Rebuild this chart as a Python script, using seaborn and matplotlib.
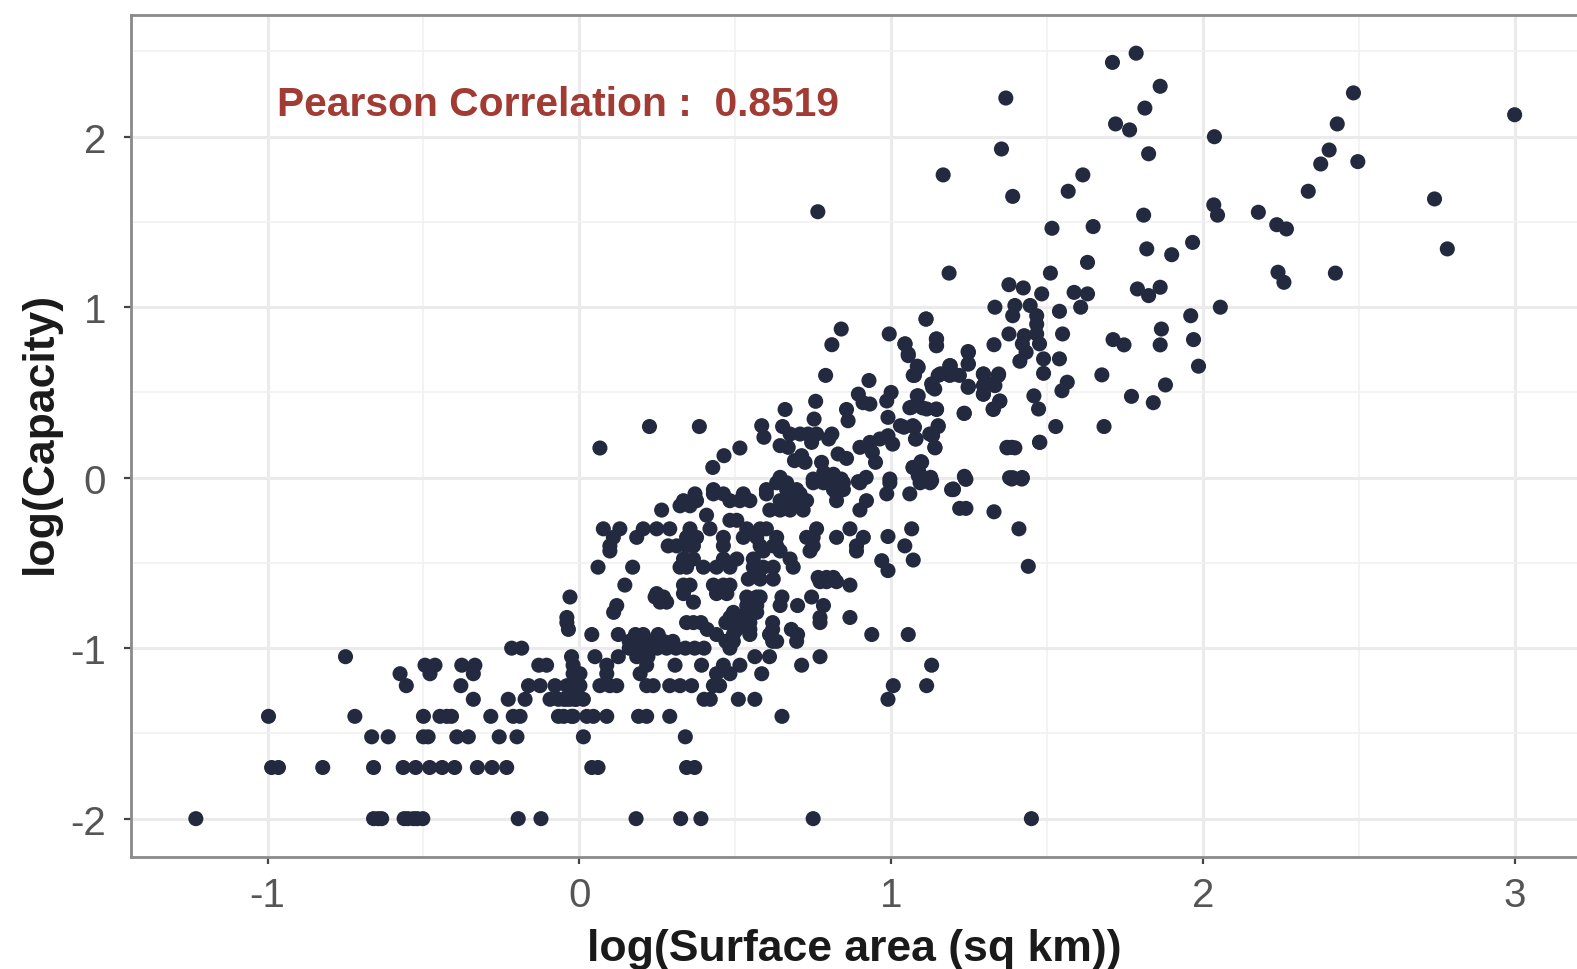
import matplotlib
matplotlib.use("Agg")
import matplotlib.pyplot as plt
import seaborn as sns
import pandas as pd
from matplotlib.ticker import MultipleLocator

# Rows of points sharing one log(Capacity) value: (level, log(Surface area) values)
row_levels = [-2.0, -1.7, -1.52, -1.4, -1.3, -1.22, -1.15, -1.10, -1.05, -1.0, -0.96, -0.92, -0.89,
              -0.85, -0.82, -0.79, -0.75, -0.73, -0.70, -0.68, -0.63, -0.61, -0.595, -0.585, -0.525,
              -0.477, -0.43, -0.40, -0.35, -0.30, -0.25, -0.22, -0.19, -0.165, -0.135, -0.095, -0.07, -0.03]
row_x = [
    [-1.23, -0.66, -0.645, -0.634, -0.562, -0.55, -0.532, -0.52, -0.502, -0.196, -0.123, 0.182, 0.325, 0.39, 0.75, 1.45],
    [-0.987, -0.965, -0.823, -0.66, -0.565, -0.525, -0.48, -0.44, -0.40, -0.327, -0.28, -0.233, 0.04, 0.06, 0.344, 0.37],
    [-0.666, -0.613, -0.50, -0.485, -0.393, -0.356, -0.257, -0.2, 0.013, 0.34],
    [-0.997, -0.72, -0.5, -0.447, -0.425, -0.41, -0.284, -0.212, -0.19, -0.067, -0.05, -0.025, -0.02, 0.024, 0.045, 0.088, 0.19, 0.216, 0.29, 0.65],
    [-0.34, -0.228, -0.174, -0.094, -0.067, -0.05, -0.04, -0.03, -0.014, -0.01, 0.013, 0.40, 0.42, 0.51, 0.563, 0.99],
    [-0.555, -0.38, -0.163, -0.126, -0.078, -0.04, -0.025, -0.02, -0.01, 0.002, 0.066, 0.098, 0.12, 0.216, 0.237, 0.29, 0.323, 0.36, 0.43, 0.45, 1.007, 1.114],
    [-0.575, -0.479, -0.34, -0.02, 0.002, 0.088, 0.195, 0.44, 0.483, 0.585],
    [-0.495, -0.463, -0.377, -0.335, -0.13, -0.105, -0.02, 0.088, 0.216, 0.307, 0.392, 0.462, 0.515, 0.713, 1.13],
    [-0.75, -0.025, 0.05, 0.125, 0.184, 0.22, 0.563, 0.61, 0.772],
    [-0.217, -0.185, 0.16, 0.19, 0.22, 0.25, 0.28, 0.31, 0.34, 0.37, 0.40, 0.483],
    [0.16, 0.195, 0.235, 0.27, 0.30, 0.47, 0.494, 0.62, 0.633, 0.697],
    [0.04, 0.125, 0.18, 0.205, 0.253, 0.44, 0.494, 0.547, 0.61, 0.70, 0.938, 1.055],
    [-0.035, 0.41, 0.505, 0.547, 0.62, 0.68],
    [-0.04, 0.344, 0.366, 0.39, 0.47, 0.505, 0.547, 0.62, 0.772],
    [-0.04, 0.483, 0.537, 0.772, 0.868],
    [0.11, 0.494, 0.537, 0.569],
    [0.12, 0.537, 0.569, 0.644, 0.70, 0.783],
    [0.259, 0.28, 0.366],
    [-0.03, 0.243, 0.27, 0.537, 0.569, 0.58, 0.65, 0.745],
    [0.248, 0.334, 0.44, 0.473],
    [0.146, 0.334, 0.355, 0.43, 0.462, 0.483, 0.868],
    [0.772, 0.793, 0.825],
    [0.542, 0.58, 0.622],
    [0.766, 0.793, 0.815],
    [0.06, 0.171, 0.323, 0.344, 0.398, 0.44, 0.483, 0.558, 0.59, 0.622, 0.686],
    [0.334, 0.366, 0.462, 0.505, 0.558, 0.676],
    [0.098, 0.59, 0.644, 0.74, 0.889],
    [0.098, 0.285, 0.312, 0.344, 0.366, 0.462, 0.58, 0.622, 0.633, 0.75, 0.889],
    [0.109, 0.184, 0.344, 0.376, 0.462, 0.526, 0.569, 0.633, 0.729, 0.75, 0.825, 0.911],
    [0.077, 0.13, 0.205, 0.248, 0.29, 0.355, 0.419, 0.537, 0.58, 0.6, 0.761, 0.868],
    [0.483, 0.505],
    [0.408],
    [0.264, 0.611, 0.644, 0.676, 0.718, 0.9],
    [0.323, 0.355],
    [0.334, 0.376, 0.483, 0.515, 0.547, 0.644, 0.686, 0.729, 0.825, 0.921],
    [0.371, 0.43, 0.462, 0.526, 0.6, 0.708, 0.825, 0.986, 1.06],
    [0.43, 0.6, 0.665, 0.697, 0.815, 0.847],
    [0.633, 0.665, 0.75, 0.783, 0.815, 0.847, 0.9, 0.996, 1.093, 1.125],
]

# Lower-right and mid points
mid_x = [1.066, 0.99, 1.044, 1.071, 0.97, 0.99, 1.194, 1.22, 1.44, 1.41, 1.33, 1.24, 1.24, 1.2, 1.38, 1.42,
         0.066, 0.225, 0.385, 0.515, 0.464, 0.428, 0.84, 0.81, 0.79, 0.929, 0.758, 0.66, 0.753, 0.585, 0.592,
         0.652, 0.676, 0.708, 0.734, 0.761, 0.644, 0.67, 0.745, 0.8, 0.81, 0.713, 0.69, 0.724, 0.83, 0.857,
         0.777, 0.784, 0.75, 0.644, 0.815, 0.84, 0.994, 1.044, 1.055, 1.112, 1.146, 1.146, 0.895, 0.91, 0.932,
         0.857, 0.862, 1.0, 0.986, 1.087, 1.071, 1.13, 1.14, 1.157, 1.19, 1.16, 1.2, 1.248, 1.248, 1.248,
         1.296, 1.296, 1.296, 1.344, 1.333, 1.349, 1.328, 1.234, 1.087, 1.06, 1.10, 1.146, 0.99, 1.03, 1.07,
         1.08, 1.151, 1.124, 1.14, 0.9, 0.932, 0.964, 0.99, 1.005, 0.94, 0.95, 1.098, 1.07, 1.087, 1.13,
         1.199, 1.237, 0.895, 0.92, 0.996, 1.387, 1.372, 1.477, 1.387, 1.419, 0.765]
mid_y = [-0.30, -0.345, -0.40, -0.483, -0.487, -0.545, -0.07, -0.18, -0.52, -0.30, -0.20, -0.18, -0.01, -0.07, -0.0, -0.0,
         0.174, 0.30, 0.30, 0.174, 0.129, 0.06, 0.872, 0.78, 0.60, 0.57, 0.448, 0.40, 0.344, 0.305, 0.237,
         0.30, 0.256, 0.256, 0.256, 0.256, 0.188, 0.178, 0.207, 0.227, 0.256, 0.129, 0.10, 0.09, 0.139, 0.113,
         0.09, 0.03, -0.008, 0.002, 0.02, -0.008, 0.843, 0.784, 0.716, 0.93, 0.813, 0.774, 0.49, 0.44, 0.432,
         0.40, 0.334, 0.50, 0.45, 0.647, 0.60, 0.55, 0.52, 0.608, 0.657, 0.608, 0.608, 0.735, 0.667, 0.536,
         0.608, 0.54, 0.49, 0.60, 0.54, 0.45, 0.40, 0.377, 0.48, 0.41, 0.41, 0.40, 0.354, 0.305, 0.305,
         0.227, 0.305, 0.256, 0.178, 0.178, 0.207, 0.227, 0.246, 0.197, 0.149, 0.09, 0.09, 0.06, 0.012, -0.018,
         -0.066, -0.002, -0.023, 0.002, -0.008, 0.178, 0.178, 0.207, -0.008, -0.008, 1.56]

# Upper points
top_x = [1.71, 1.786, 1.863, 1.814, 1.72, 1.765, 1.826, 1.368, 1.354, 1.167, 1.39, 1.615, 1.568, 1.516, 1.648, 1.81,
         1.82, 1.90, 1.967, 2.037, 2.483, 2.431, 2.405, 2.378, 2.497, 2.338, 2.035, 2.047, 2.178, 2.237, 2.268,
         2.743, 2.784, 2.425, 2.241, 2.26, 3.0, 1.186, 1.63, 1.511, 1.378, 1.424, 1.483, 1.587, 1.63, 1.608,
         1.333, 1.397, 1.39, 1.446, 1.467, 1.54, 1.112, 1.467, 1.467, 1.378, 1.427, 1.55, 1.145, 1.145, 1.045,
         1.055, 1.33, 1.421, 1.476, 1.433, 1.413, 1.489, 1.54, 1.489, 1.247, 1.247, 1.084, 1.075, 1.188, 1.151,
         1.188, 1.219, 1.296, 1.345, 1.323, 1.296, 1.247, 1.133, 1.676, 1.565, 1.548, 1.88, 1.771, 1.841, 1.458,
         1.473, 1.348, 1.327, 1.235, 1.084, 1.065, 1.114, 1.145, 1.528, 1.683, 1.476, 1.372, 1.397, 1.151, 1.075,
         1.078, 1.133, 1.141, 1.041, 1.096, 1.071, 1.09, 1.127, 1.235, 1.39, 1.421,
         1.79, 1.826, 1.863, 1.961, 2.056, 1.867, 1.863, 1.97, 1.986, 1.712, 1.747]
top_y = [2.436, 2.49, 2.296, 2.168, 2.075, 2.04, 1.90, 2.227, 1.928, 1.776, 1.65, 1.776, 1.68, 1.463, 1.473, 1.54,
         1.342, 1.308, 1.38, 2.0, 2.257, 2.075, 1.922, 1.84, 1.854, 1.68, 1.60, 1.54, 1.557, 1.484, 1.459,
         1.635, 1.342, 1.2, 1.205, 1.146, 2.129, 1.2, 1.263, 1.2, 1.132, 1.113, 1.078, 1.087, 1.078, 1.0,
         1.0, 1.01, 0.95, 1.01, 0.95, 0.976, 0.931, 0.90, 0.843, 0.843, 0.833, 0.843, 0.814, 0.775, 0.785,
         0.726, 0.78, 0.785, 0.785, 0.736, 0.683, 0.697, 0.697, 0.612, 0.74, 0.667, 0.654, 0.60, 0.657, 0.60,
         0.60, 0.60, 0.608, 0.608, 0.55, 0.49, 0.53, 0.53, 0.603, 0.56, 0.51, 0.544, 0.477, 0.44, 0.48,
         0.403, 0.448, 0.403, 0.378, 0.48, 0.413, 0.403, 0.403, 0.30, 0.30, 0.208, 0.175, 0.175, 0.30, 0.296,
         0.227, 0.247, 0.175, 0.296, 0.094, 0.06, 0.03, 0.002, 0.008, 0.0, 0.0,
         1.107, 1.068, 1.117, 0.95, 1.0, 0.872, 0.779, 0.81, 0.654, 0.81, 0.779]

x_ticks = [-1, 0, 1, 2, 3]
y_ticks = [-2, -1, 0, 1, 2]
x_label = "log(Surface area (sq km))"
y_label = "log(Capacity)"
note = "Pearson Correlation :  0.8519"

xs, ys = [], []
for level, vals in zip(row_levels, row_x):
    xs += vals
    ys += [level] * len(vals)
xs += mid_x + top_x
ys += mid_y + top_y
df = pd.DataFrame({"x": xs, "y": ys})

sns.set_theme(style="white")
plt.rcParams['font.family'] = ['Liberation Sans', 'DejaVu Sans']

fig = plt.figure(figsize=(15.77, 9.70), dpi=100)
ax = fig.add_axes([131 / 1577, 1 - 858 / 970, (1577 - 131) / 1577, (858 - 16) / 970])

sns.scatterplot(data=df, x="x", y="y", ax=ax, s=118, color="#232A40",
                edgecolor="none", linewidth=0, zorder=3, clip_on=True)

ax.set_xlim(-1.438, 3.2)
ax.set_ylim(-2.225, 2.714)
ax.set_xticks(x_ticks)
ax.set_xticklabels([str(t) for t in x_ticks])
ax.set_yticks(y_ticks)
ax.set_yticklabels([str(t) for t in y_ticks])
ax.xaxis.set_minor_locator(MultipleLocator(0.5))
ax.yaxis.set_minor_locator(MultipleLocator(0.5))
ax.grid(True, which="major", color="#EBEBEB", linewidth=2.2, zorder=0)
ax.grid(True, which="minor", color="#F1F1F1", linewidth=1.2, zorder=0)
ax.set_axisbelow(True)
ax.tick_params(axis="both", which="major", bottom=True, left=True, length=5, width=1.6,
               color="#444444", labelsize=29, labelcolor="#555555")
ax.tick_params(axis="x", which="major", pad=9)
ax.tick_params(axis="y", which="major", pad=13)
ax.tick_params(axis="both", which="minor", bottom=False, left=False)

for side in ("top", "left", "bottom"):
    ax.spines[side].set_visible(True)
    ax.spines[side].set_linewidth(2.0)
    ax.spines[side].set_color("#8A8A8A")
ax.spines["right"].set_visible(False)

ax.set_xlabel(x_label, fontsize=32, fontweight="bold", color="#1A1A1A", labelpad=10)
ax.set_ylabel(y_label, fontsize=32, fontweight="bold", color="#1A1A1A", labelpad=7, y=0.505)
ax.text(-0.97, 2.19, note, fontsize=29.3, fontweight="bold", color="#A23B33", ha="left", va="center")

fig.savefig("out.png", dpi=100, facecolor="white")
